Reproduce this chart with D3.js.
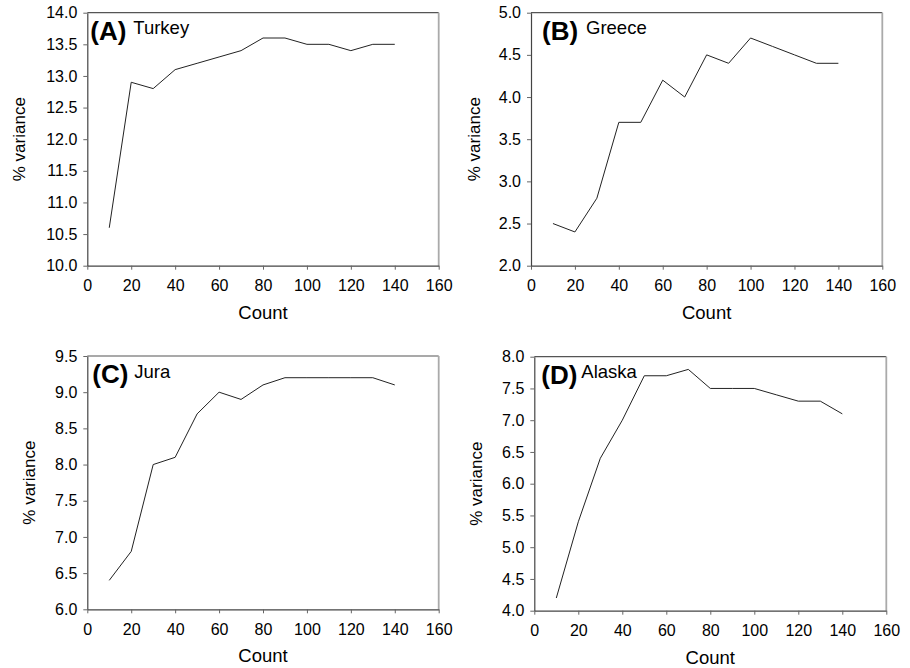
<!DOCTYPE html>
<html>
<head>
<meta charset="utf-8">
<script src="https://cdn.jsdelivr.net/npm/d3@7"></script>
<style>
  html, body { margin: 0; padding: 0; background: #fff; }
  svg { display: block; font-family: "Liberation Sans", Arial, Helvetica, sans-serif; }
</style>
</head>
<body>
<svg id="chart" width="910" height="668"></svg>
<script>
// Sample counts shared by all four panels
const counts = [10, 20, 30, 40, 50, 60, 70, 80, 90, 100, 110, 120, 130, 140];

// % variance per region
const turkey = [10.6, 12.9, 12.8, 13.1, 13.2, 13.3, 13.4, 13.6, 13.6, 13.5, 13.5, 13.4, 13.5, 13.5];
const greece = [2.5, 2.4, 2.8, 3.7, 3.7, 4.2, 4.0, 4.5, 4.4, 4.7, 4.6, 4.5, 4.4, 4.4];
const jura   = [6.4, 6.8, 8.0, 8.1, 8.7, 9.0, 8.9, 9.1, 9.2, 9.2, 9.2, 9.2, 9.2, 9.1];
const alaska = [4.2, 5.4, 6.4, 7.0, 7.7, 7.7, 7.8, 7.5, 7.5, 7.5, 7.4, 7.3, 7.3, 7.1];

// Panel letters, region names and y ranges
const letters = ["(A)", "(B)", "(C)", "(D)"];
const regions = ["Turkey", "Greece", "Jura", "Alaska"];
const yRanges = [[10, 14], [2, 5], [6, 9.5], [4, 8]];
const xTicks = [0, 20, 40, 60, 80, 100, 120, 140, 160];
const xTitle = "Count";
const yTitle = "% variance";

const seriesList = [turkey, greece, jura, alaska];

// Placement of each panel's plotting area on the page
const layout = [
  { left: 87.3, right: 438.7, top: 12.7, bottom: 265.7, yTitleOff: -62, letterDx: 3,  nameDx: 46 },
  { left: 531,  right: 882.3, top: 12.7, bottom: 265.7, yTitleOff: -51, letterDx: 11, nameDx: 55 },
  { left: 87.3, right: 438.7, top: 356,  bottom: 609.3, yTitleOff: -52, letterDx: 5,  nameDx: 47 },
  { left: 534.3, right: 886.3, top: 356.7, bottom: 610.7, yTitleOff: -52, letterDx: 7, nameDx: 47 }
];

const svg = d3.select("#chart");

seriesList.forEach((values, i) => {
  const L = layout[i];
  const x = d3.scaleLinear().domain([0, 160]).range([L.left, L.right]);
  const y = d3.scaleLinear().domain(yRanges[i]).range([L.bottom, L.top]);
  const yTicks = d3.range(yRanges[i][0], yRanges[i][1] + 0.001, 0.5);

  const g = svg.append("g");

  // Frame: top and right edges
  g.append("line")
    .attr("x1", L.left).attr("x2", L.right)
    .attr("y1", L.top).attr("y2", L.top)
    .attr("stroke", "#555").attr("stroke-width", 1.2);
  g.append("line")
    .attr("x1", L.right).attr("x2", L.right)
    .attr("y1", L.top).attr("y2", L.bottom)
    .attr("stroke", "#aaa").attr("stroke-width", 1.8);

  // X axis
  const xa = g.append("g")
    .attr("transform", `translate(0,${L.bottom})`)
    .call(d3.axisBottom(x).tickValues(xTicks).tickFormat(d3.format("d"))
      .tickSize(4).tickSizeOuter(0).tickPadding(10));
  // Y axis
  const ya = g.append("g")
    .attr("transform", `translate(${L.left},0)`)
    .call(d3.axisLeft(y).tickValues(yTicks).tickFormat(d3.format(".1f"))
      .tickSize(4).tickSizeOuter(0).tickPadding(6));

  [xa, ya].forEach(a => {
    a.select(".domain").attr("stroke", "#444").attr("stroke-width", 1.2);
    a.selectAll(".tick line").attr("stroke", "#666").attr("stroke-width", 1);
    a.selectAll(".tick text")
      .attr("fill", "#000")
      .style("font-size", "16px")
      .style("font-family", "'Liberation Sans', Arial, sans-serif");
  });

  // Axis titles
  g.append("text")
    .attr("x", (L.left + L.right) / 2)
    .attr("y", L.bottom + 53)
    .attr("text-anchor", "middle")
    .style("font-size", "18.5px")
    .text(xTitle);

  g.append("text")
    .attr("transform", `translate(${L.left + L.yTitleOff},${(L.top + L.bottom) / 2}) rotate(-90)`)
    .attr("text-anchor", "middle")
    .style("font-size", "17px")
    .text(yTitle);

  // Panel label
  g.append("text")
    .attr("x", L.left + L.letterDx)
    .attr("y", L.top + 27)
    .style("font-size", "26px")
    .style("font-weight", "bold")
    .text(letters[i]);
  g.append("text")
    .attr("x", L.left + L.nameDx)
    .attr("y", L.top + 21.5)
    .style("font-size", "18.5px")
    .text(regions[i]);

  // Data line
  const line = d3.line()
    .x((d, k) => x(counts[k]))
    .y(d => y(d));
  g.append("path")
    .datum(values)
    .attr("d", line)
    .attr("fill", "none")
    .attr("stroke", "#222")
    .attr("stroke-width", 1)
    .attr("stroke-linejoin", "miter");
});
</script>
</body>
</html>
